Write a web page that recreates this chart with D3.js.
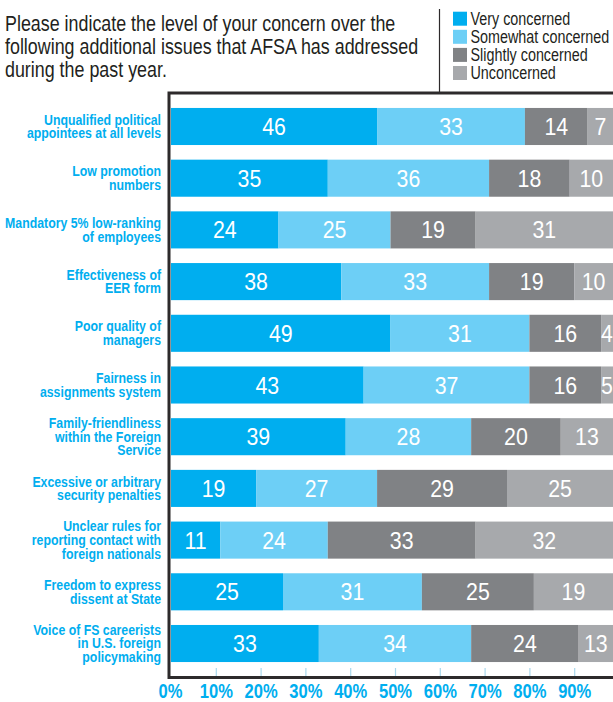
<!DOCTYPE html>
<html>
<head>
<meta charset="utf-8">
<script src="https://cdn.jsdelivr.net/npm/d3@7"></script>
<style>
  html, body { margin: 0; padding: 0; background: #fff; }
  svg { display: block; }
</style>
</head>
<body>
<script>
// Survey question and answer scale
const titleLines = [
  "Please indicate the level of your concern over the",
  "following additional issues that AFSA has addressed",
  "during the past year."
];
const seriesNames = ["Very concerned", "Somewhat concerned", "Slightly concerned", "Unconcerned"];
const seriesColors = ["#00aeef", "#6dcff6", "#808285", "#a7a9ac"];

// Issue labels, one entry per bar (each split into its printed lines)
const categories = [
  ["Unqualified political", "appointees at all levels"],
  ["Low promotion", "numbers"],
  ["Mandatory 5% low-ranking", "of employees"],
  ["Effectiveness of", "EER form"],
  ["Poor quality of", "managers"],
  ["Fairness in", "assignments system"],
  ["Family-friendliness", "within the Foreign", "Service"],
  ["Excessive or arbitrary", "security penalties"],
  ["Unclear rules for", "reporting contact with", "foreign nationals"],
  ["Freedom to express", "dissent at State"],
  ["Voice of FS careerists", "in U.S. foreign", "policymaking"]
];

// Percent of respondents per answer
const veryConcerned      = [46, 35, 24, 38, 49, 43, 39, 19, 11, 25, 33];
const somewhatConcerned  = [33, 36, 25, 33, 31, 37, 28, 27, 24, 31, 34];
const slightlyConcerned  = [14, 18, 19, 19, 16, 16, 20, 29, 33, 25, 24];
const unconcerned        = [7, 10, 31, 10, 4, 5, 13, 25, 32, 19, 13];

const tickValues = [0, 10, 20, 30, 40, 50, 60, 70, 80, 90];

// ---------------------------------------------------------------
const W = 613, H = 702;
const plot = { left: 171, right: 619, top: 94, bottom: 676 };
const frameColor = "#2d2a2b";
const labelBlue = "#00aeef";
const font = "'Liberation Sans', Arial, sans-serif";

// horizontal squeeze to get a condensed face out of a regular one
const squeeze = (sx, tx, ty) => `translate(${tx},${ty}) scale(${sx},1)`;

const svg = d3.select("body").append("svg")
  .attr("width", W).attr("height", H);

const rows = categories.map((c, i) => ({
  key: i,
  label: c,
  values: [veryConcerned[i], somewhatConcerned[i], slightlyConcerned[i], unconcerned[i]]
}));

const x = d3.scaleLinear().domain([0, 100]).range([plot.left, plot.right]);
const y = d3.scaleBand()
  .domain(rows.map(r => r.key))
  .range([plot.top, plot.bottom])
  .paddingInner(0.283)
  .paddingOuter(0.27);

// Title
svg.append("g").selectAll("text").data(titleLines).join("text")
  .attr("transform", (d, i) => squeeze(0.82, 5, 30.5 + i * 23.3))
  .attr("font-family", font)
  .attr("font-size", 21.8)
  .attr("fill", "#231f20")
  .text(d => d);

// Legend with separator line
svg.append("line")
  .attr("x1", 439.5).attr("x2", 439.5)
  .attr("y1", 9).attr("y2", 92)
  .attr("stroke", frameColor).attr("stroke-width", 1.2);

const legend = svg.append("g").selectAll("g").data(seriesNames).join("g")
  .attr("transform", (d, i) => `translate(453,${11.7 + i * 18.1})`);
legend.append("rect")
  .attr("width", 14).attr("height", 14)
  .attr("fill", (d, i) => seriesColors[i]);
legend.append("text")
  .attr("transform", squeeze(0.82, 17.5, 13.3))
  .attr("font-family", font)
  .attr("font-size", 17.5)
  .attr("fill", "#231f20")
  .text(d => d);

// Stacked bars
const stacked = rows.map(r => {
  let acc = 0;
  return r.values.map((v, j) => {
    const seg = { row: r.key, series: j, value: v, x0: acc, x1: acc + v };
    acc += v;
    return seg;
  });
});

const segs = svg.append("g").selectAll("g.row").data(stacked).join("g").attr("class", "row")
  .selectAll("g.seg").data(d => d).join("g").attr("class", "seg");

segs.append("rect")
  .attr("x", d => x(d.x0))
  .attr("y", d => y(d.row))
  .attr("width", d => x(d.x1) - x(d.x0))
  .attr("height", y.bandwidth())
  .attr("fill", d => seriesColors[d.series]);

segs.append("text")
  .attr("transform", d => squeeze(0.87,
      (x(d.x0) + Math.min(x(d.x1), W)) / 2,
      y(d.row) + y.bandwidth() / 2 + 8.6))
  .attr("text-anchor", "middle")
  .attr("font-family", font)
  .attr("font-size", 24.5)
  .attr("fill", "#fff")
  .text(d => d.value);

// Category labels
const catG = svg.append("g").selectAll("text").data(rows).join("text")
  .attr("transform", squeeze(0.88, 161, 0))
  .attr("text-anchor", "end")
  .attr("font-family", font)
  .attr("font-weight", "bold")
  .attr("font-size", 14)
  .attr("fill", labelBlue);
const lineGap = 13.6;
catG.each(function(r) {
  const n = r.label.length;
  const cy = y(r.key) + y.bandwidth() / 2;
  const first = cy - (n - 1) * lineGap / 2 + 5;
  d3.select(this).selectAll("tspan").data(r.label).join("tspan")
    .attr("x", 0)
    .attr("y", (d, i) => first + i * lineGap)
    .text(d => d);
});

// Bottom axis: short ticks pointing up into the plot, bold percent labels below
const axis = d3.axisBottom(x)
  .tickValues(tickValues)
  .tickSizeInner(-8)
  .tickSizeOuter(0)
  .tickFormat(d => d + "%");

const axisG = svg.append("g")
  .attr("transform", `translate(0,${plot.bottom})`)
  .call(axis);
axisG.select(".domain").remove();
axisG.selectAll(".tick line")
  .attr("stroke", "#a9d8ec")
  .attr("stroke-width", 1.2)
  .filter(d => d === 0).remove();
axisG.selectAll(".tick text")
  .attr("y", 0)
  .attr("dy", 0)
  .attr("transform", d => squeeze(0.85, d === 0 ? -1 : 0, 22))
  .attr("font-family", font)
  .attr("font-weight", "bold")
  .attr("font-size", 19.5)
  .attr("fill", labelBlue);

// Chart frame: top, left and bottom rules
svg.append("path")
  .attr("d", d3.line()([[W, 93], [169, 93], [169, 677.5], [W, 677.5]]))
  .attr("fill", "none")
  .attr("stroke", frameColor)
  .attr("stroke-width", 3);
</script>
</body>
</html>
